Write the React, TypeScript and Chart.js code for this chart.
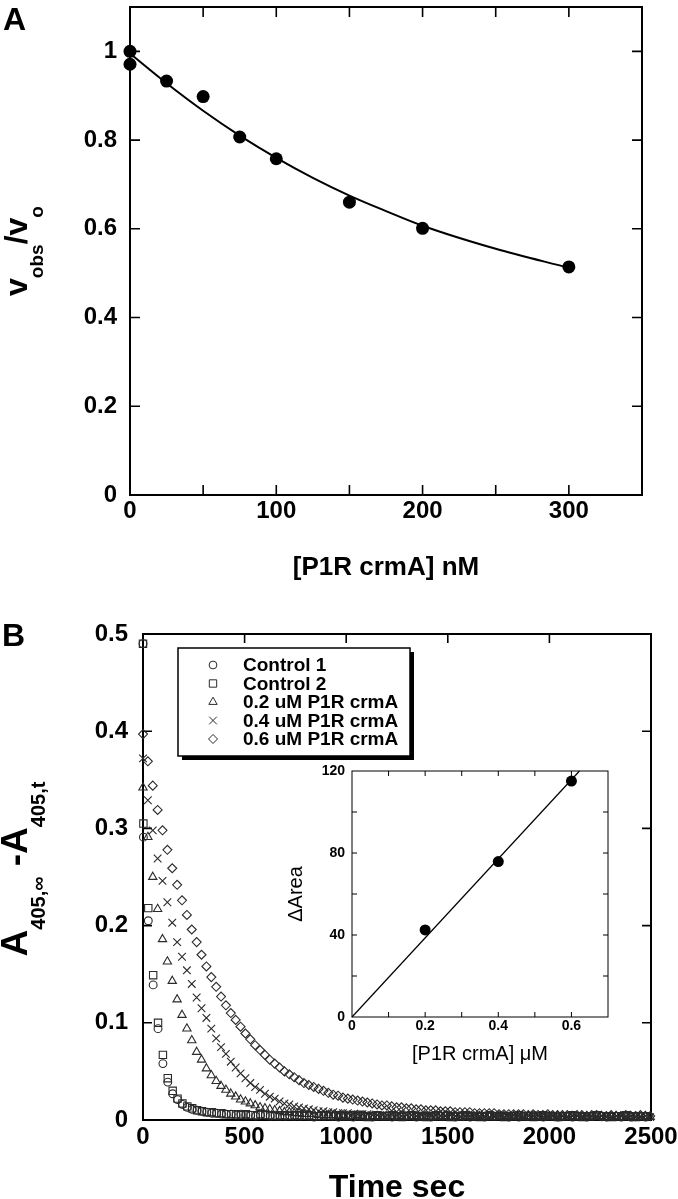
import React, { useEffect, useRef } from 'react';
import { Chart, registerables } from 'chart.js';

Chart.register(...registerables);

const FONT = '"Liberation Sans", Arial, Helvetica, sans-serif';
Chart.defaults.font.family = FONT;
Chart.defaults.color = '#000';

// ---------- Panel A ----------
const concA = [0, 0, 25, 50, 75, 100, 150, 200, 300];
const ratioA = [1.0, 0.971, 0.933, 0.898, 0.807, 0.758, 0.66, 0.601, 0.514];
const fitConcA = [0, 25, 50, 75, 100, 125, 150, 175, 200, 250, 300];
const fitRatioA = [0.995, 0.928, 0.866, 0.81, 0.76, 0.715, 0.675, 0.64, 0.607, 0.555, 0.512];

// ---------- Panel B ----------
const SAMPLE_STEP_S = 24;
const N_SAMPLES = 105;
const timeB = Array.from({ length: N_SAMPLES }, (_, i) => i * SAMPLE_STEP_S);
const CONTROL_OFFSET_S = 2;
const controlTimeB = [0, ...timeB.slice(0, N_SAMPLES - 1).map((t) => t + CONTROL_OFFSET_S)];

const control1 = [
  0.490, 0.291, 0.205, 0.139, 0.094, 0.058, 0.039, 0.027, 0.021, 0.016,
  0.013, 0.011, 0.010, 0.009, 0.008, 0.007, 0.007, 0.006, 0.006, 0.006,
  0.005, 0.006, 0.005, 0.005, 0.004, 0.005, 0.005, 0.004, 0.005, 0.004,
  0.004, 0.005, 0.004, 0.004, 0.005, 0.004, 0.003, 0.004, 0.004, 0.005,
  0.004, 0.003, 0.004, 0.004, 0.003, 0.004, 0.005, 0.004, 0.003, 0.004,
  0.004, 0.004, 0.003, 0.004, 0.005, 0.004, 0.004, 0.003, 0.004, 0.004,
  0.003, 0.004, 0.004, 0.005, 0.004, 0.003, 0.004, 0.004, 0.003, 0.004,
  0.004, 0.003, 0.004, 0.004, 0.005, 0.004, 0.003, 0.004, 0.003, 0.004,
  0.004, 0.005, 0.004, 0.003, 0.004, 0.004, 0.003, 0.004, 0.004, 0.003,
  0.004, 0.004, 0.003, 0.004, 0.005, 0.004, 0.003, 0.004, 0.004, 0.003,
  0.004, 0.003, 0.004, 0.004, 0.003,
];
const control2 = [
  0.490, 0.305, 0.218, 0.149, 0.100, 0.067, 0.043, 0.030, 0.022, 0.017,
  0.014, 0.012, 0.010, 0.009, 0.008, 0.008, 0.007, 0.007, 0.006, 0.006,
  0.006, 0.005, 0.006, 0.005, 0.005, 0.006, 0.005, 0.005, 0.004, 0.005,
  0.005, 0.004, 0.005, 0.005, 0.004, 0.005, 0.004, 0.004, 0.005, 0.004,
  0.004, 0.005, 0.004, 0.004, 0.005, 0.004, 0.004, 0.003, 0.004, 0.005,
  0.004, 0.004, 0.005, 0.004, 0.003, 0.004, 0.005, 0.004, 0.004, 0.003,
  0.004, 0.005, 0.004, 0.004, 0.003, 0.004, 0.004, 0.005, 0.004, 0.004,
  0.003, 0.004, 0.005, 0.004, 0.004, 0.003, 0.004, 0.004, 0.005, 0.004,
  0.004, 0.003, 0.004, 0.005, 0.004, 0.004, 0.003, 0.004, 0.004, 0.005,
  0.004, 0.003, 0.004, 0.004, 0.005, 0.004, 0.004, 0.003, 0.004, 0.004,
  0.005, 0.004, 0.003, 0.004, 0.004,
];
const crmA02 = [
  0.342, 0.291, 0.250, 0.217, 0.186, 0.163, 0.143, 0.124, 0.108, 0.094,
  0.082, 0.070, 0.062, 0.053, 0.046, 0.040, 0.035, 0.031, 0.027, 0.024,
  0.021, 0.019, 0.017, 0.015, 0.013, 0.012, 0.011, 0.010, 0.009, 0.008,
  0.008, 0.007, 0.007, 0.006, 0.006, 0.006, 0.005, 0.005, 0.005, 0.005,
  0.004, 0.005, 0.004, 0.004, 0.005, 0.004, 0.003, 0.004, 0.004, 0.003,
  0.004, 0.004, 0.003, 0.004, 0.003, 0.004, 0.004, 0.003, 0.004, 0.003,
  0.003, 0.004, 0.004, 0.003, 0.004, 0.003, 0.003, 0.004, 0.003, 0.004,
  0.003, 0.004, 0.003, 0.003, 0.004, 0.003, 0.004, 0.003, 0.003, 0.004,
  0.003, 0.003, 0.004, 0.003, 0.003, 0.004, 0.003, 0.003, 0.004, 0.003,
  0.003, 0.004, 0.003, 0.003, 0.004, 0.003, 0.003, 0.004, 0.003, 0.003,
  0.004, 0.003, 0.003, 0.004, 0.003,
];
const crmA04 = [
  0.372, 0.329, 0.298, 0.269, 0.246, 0.224, 0.203, 0.183, 0.168, 0.154,
  0.140, 0.126, 0.115, 0.105, 0.094, 0.084, 0.075, 0.068, 0.060, 0.054,
  0.048, 0.043, 0.038, 0.034, 0.031, 0.027, 0.024, 0.022, 0.019, 0.017,
  0.016, 0.014, 0.013, 0.012, 0.011, 0.010, 0.009, 0.009, 0.008, 0.008,
  0.007, 0.007, 0.007, 0.006, 0.006, 0.006, 0.006, 0.005, 0.005, 0.005,
  0.005, 0.006, 0.005, 0.004, 0.005, 0.005, 0.004, 0.005, 0.004, 0.004,
  0.005, 0.004, 0.004, 0.005, 0.004, 0.003, 0.004, 0.004, 0.005, 0.004,
  0.004, 0.003, 0.004, 0.004, 0.003, 0.004, 0.005, 0.004, 0.003, 0.004,
  0.004, 0.004, 0.003, 0.004, 0.004, 0.003, 0.004, 0.003, 0.004, 0.004,
  0.003, 0.004, 0.004, 0.003, 0.004, 0.003, 0.003, 0.004, 0.004, 0.003,
  0.004, 0.003, 0.003, 0.004, 0.003,
];
const crmA06 = [
  0.397, 0.369, 0.344, 0.319, 0.298, 0.278, 0.259, 0.242, 0.226, 0.211,
  0.196, 0.183, 0.170, 0.158, 0.147, 0.137, 0.127, 0.118, 0.110, 0.103,
  0.096, 0.089, 0.083, 0.077, 0.072, 0.067, 0.062, 0.058, 0.054, 0.050,
  0.047, 0.044, 0.041, 0.038, 0.036, 0.034, 0.032, 0.030, 0.028, 0.026,
  0.025, 0.023, 0.022, 0.021, 0.020, 0.019, 0.018, 0.017, 0.016, 0.015,
  0.015, 0.014, 0.013, 0.013, 0.012, 0.012, 0.011, 0.011, 0.010, 0.010,
  0.010, 0.009, 0.009, 0.009, 0.008, 0.008, 0.008, 0.008, 0.007, 0.007,
  0.007, 0.007, 0.007, 0.006, 0.006, 0.006, 0.006, 0.006, 0.006, 0.005,
  0.006, 0.005, 0.005, 0.006, 0.005, 0.005, 0.005, 0.005, 0.004, 0.005,
  0.005, 0.004, 0.005, 0.005, 0.004, 0.004, 0.005, 0.004, 0.004, 0.005,
  0.004, 0.004, 0.005, 0.004, 0.004,
];
const legendLabelsB = ['Control 1', 'Control 2', '0.2 uM P1R crmA', '0.4 uM P1R crmA', '0.6 uM P1R crmA'];
const markerStylesB = ['circle', 'rect', 'triangle', 'crossRot', 'rectRot'];
const markerRadiiB = [3.9, 5.2, 4.8, 5.4, 4.5];

// ---------- Inset ----------
const concInset = [0.2, 0.4, 0.6];
const areaInset = [42.5, 75.8, 115.1];
const fitConcInset = [0, 0.622];
const fitAreaInset = [0, 120];

const MARK_COLOR = '#2a2a2a';

type Seg = { t: string; s: number; sh?: number; w?: string };

function drawRich(ctx: CanvasRenderingContext2D, segs: Seg[], x: number, y: number, rotated: boolean) {
  ctx.save();
  ctx.fillStyle = '#000';
  ctx.textBaseline = 'alphabetic';
  ctx.textAlign = 'left';
  let total = 0;
  const widths = segs.map((sg) => {
    ctx.font = `${sg.w ?? 'bold'} ${sg.s}px ${FONT}`;
    const w = ctx.measureText(sg.t).width;
    total += w;
    return w;
  });
  ctx.translate(x, y);
  if (rotated) ctx.rotate(-Math.PI / 2);
  let cx = -total / 2;
  segs.forEach((sg, i) => {
    ctx.font = `${sg.w ?? 'bold'} ${sg.s}px ${FONT}`;
    ctx.fillText(sg.t, cx, sg.sh ?? 0);
    cx += widths[i];
  });
  ctx.restore();
}

function drawMarker(ctx: CanvasRenderingContext2D, style: string, x: number, y: number, r: number) {
  ctx.beginPath();
  if (style === 'circle') {
    ctx.arc(x, y, r, 0, Math.PI * 2);
  } else if (style === 'rect') {
    const s = r * Math.SQRT1_2;
    ctx.rect(x - s, y - s, 2 * s, 2 * s);
  } else if (style === 'triangle') {
    for (let k = 0; k < 3; k++) {
      const a = (k * 2 * Math.PI) / 3;
      const px = x + Math.sin(a) * r;
      const py = y - Math.cos(a) * r;
      if (k === 0) ctx.moveTo(px, py);
      else ctx.lineTo(px, py);
    }
    ctx.closePath();
  } else if (style === 'crossRot') {
    const o = r * Math.SQRT1_2;
    ctx.moveTo(x - o, y - o);
    ctx.lineTo(x + o, y + o);
    ctx.moveTo(x - o, y + o);
    ctx.lineTo(x + o, y - o);
  } else if (style === 'rectRot') {
    ctx.moveTo(x, y - r);
    ctx.lineTo(x + r, y);
    ctx.lineTo(x, y + r);
    ctx.lineTo(x - r, y);
    ctx.closePath();
  }
  ctx.stroke();
}

function framePlugin(tickLen: number, lineW: number, tickW: number) {
  return {
    id: 'frame',
    beforeDatasetsDraw(chart: any) {
      const { ctx, chartArea: a, scales } = chart;
      ctx.save();
      ctx.strokeStyle = '#000';
      ctx.lineWidth = lineW;
      ctx.strokeRect(a.left, a.top, a.right - a.left, a.bottom - a.top);
      ctx.lineWidth = tickW;
      ctx.beginPath();
      for (const t of scales.x.ticks) {
        const px = scales.x.getPixelForValue(t.value);
        if (px <= a.left + 1 || px >= a.right - 1) continue;
        ctx.moveTo(px, a.bottom);
        ctx.lineTo(px, a.bottom - tickLen);
        ctx.moveTo(px, a.top);
        ctx.lineTo(px, a.top + tickLen);
      }
      for (const t of scales.y.ticks) {
        const py = scales.y.getPixelForValue(t.value);
        if (py <= a.top + 1 || py >= a.bottom - 1) continue;
        ctx.moveTo(a.left, py);
        ctx.lineTo(a.left + tickLen, py);
        ctx.moveTo(a.right, py);
        ctx.lineTo(a.right - tickLen, py);
      }
      ctx.stroke();
      ctx.restore();
    },
  };
}

function zeroPad(s: any) {
  s.paddingTop = 0;
  s.paddingBottom = 0;
  s.paddingLeft = 0;
  s.paddingRight = 0;
}

function fixedAxes(yWidth: number, xHeight: number) {
  return {
    y: (s: any) => {
      s.width = yWidth;
      zeroPad(s);
    },
    x: (s: any) => {
      s.height = xHeight;
      zeroPad(s);
    },
  };
}

const tickFont = (size: number, weight: any = 'bold') => ({ family: FONT, size, weight });

export default function App() {
  const refA = useRef<HTMLCanvasElement>(null);
  const refB = useRef<HTMLCanvasElement>(null);
  const refC = useRef<HTMLCanvasElement>(null);

  useEffect(() => {
    // ----- Panel A -----
    const fa = fixedAxes(130, 60);
    const chartA = new Chart(refA.current!, {
      type: 'scatter',
      data: {
        datasets: [
          {
            data: concA.map((x, i) => ({ x, y: ratioA[i] })),
            pointStyle: 'circle',
            pointRadius: 6.5,
            backgroundColor: '#000',
            borderColor: '#000',
            borderWidth: 0,
            clip: false,
          } as any,
          {
            data: fitConcA.map((x, i) => ({ x, y: fitRatioA[i] })),
            showLine: true,
            pointRadius: 0,
            borderColor: '#000',
            borderWidth: 2,
            tension: 0.4,
            cubicInterpolationMode: 'monotone',
            clip: false,
          } as any,
        ],
      },
      options: {
        responsive: false,
        animation: false,
        events: [],
        layout: { padding: { left: 0, right: 36, top: 7, bottom: 45 }, autoPadding: false } as any,
        plugins: { legend: { display: false }, tooltip: { enabled: false } },
        scales: {
          x: {
            type: 'linear',
            min: 0,
            max: 350,
            grid: { display: false, drawTicks: false },
            border: { display: false },
            afterFit: fa.x,
            ticks: {
              stepSize: 50,
              autoSkip: false,
              maxRotation: 0,
              padding: 2,
              font: tickFont(24),
              color: '#000',
              callback: (v: any) => (Math.round(v) % 100 === 0 ? String(Math.round(v)) : ''),
            },
          },
          y: {
            type: 'linear',
            min: 0,
            max: 1.1,
            grid: { display: false, drawTicks: false },
            border: { display: false },
            afterFit: fa.y,
            ticks: {
              stepSize: 0.2,
              includeBounds: false,
              autoSkip: false,
              padding: 13,
              font: tickFont(24),
              color: '#000',
              callback: (v: any) => String(Math.round(v * 10) / 10),
            },
          },
        },
      } as any,
      plugins: [
        framePlugin(10, 2, 1.6),
        {
          id: 'titlesA',
          afterDraw(chart: any) {
            const ctx = chart.ctx;
            const a = chart.chartArea;
            drawRich(ctx, [{ t: '[P1R crmA] nM', s: 26 }], (a.left + a.right) / 2, 575, false);
            drawRich(
              ctx,
              [
                { t: 'v', s: 32 },
                { t: 'obs', s: 19, sh: 16 },
                { t: '/v', s: 32 },
                { t: 'o', s: 19, sh: 16 },
              ],
              27,
              (a.top + a.bottom) / 2,
              true
            );
            ctx.save();
            ctx.font = `bold 32px ${FONT}`;
            ctx.fillStyle = '#000';
            ctx.textBaseline = 'alphabetic';
            ctx.fillText('A', 3, 30);
            ctx.restore();
          },
        },
      ],
    } as any);

    // ----- Panel B -----
    const fb = fixedAxes(143, 60);
    const seriesB = [control1, control2, crmA02, crmA04, crmA06];
    const chartB = new Chart(refB.current!, {
      type: 'scatter',
      data: {
        datasets: seriesB.map((vals, k) => ({
          label: legendLabelsB[k],
          data: vals.map((y, i) => ({ x: k < 2 ? controlTimeB[i] : timeB[i], y })),
          pointStyle: markerStylesB[k],
          pointRadius: markerRadiiB[k],
          backgroundColor: 'rgba(0,0,0,0)',
          borderColor: MARK_COLOR,
          borderWidth: 1.1,
          clip: false,
        })) as any,
      },
      options: {
        responsive: false,
        animation: false,
        events: [],
        layout: { padding: { left: 0, right: 27, top: 34, bottom: 19 }, autoPadding: false } as any,
        plugins: { legend: { display: false }, tooltip: { enabled: false } },
        scales: {
          x: {
            type: 'linear',
            min: 0,
            max: 2500,
            grid: { display: false, drawTicks: false },
            border: { display: false },
            afterFit: fb.x,
            ticks: {
              stepSize: 500,
              autoSkip: false,
              maxRotation: 0,
              padding: 3,
              font: tickFont(24),
              color: '#000',
              callback: (v: any) => String(Math.round(v)),
            },
          },
          y: {
            type: 'linear',
            min: 0,
            max: 0.5,
            grid: { display: false, drawTicks: false },
            border: { display: false },
            afterFit: fb.y,
            ticks: {
              stepSize: 0.1,
              autoSkip: false,
              padding: 15,
              font: tickFont(24),
              color: '#000',
              callback: (v: any) => (Math.abs(v) < 1e-9 ? '0' : (Math.round(v * 10) / 10).toFixed(1)),
            },
          },
        },
      } as any,
      plugins: [
        framePlugin(9, 2, 1.6),
        {
          id: 'titlesB',
          afterDraw(chart: any) {
            const ctx = chart.ctx;
            const a = chart.chartArea;
            drawRich(ctx, [{ t: 'Time sec', s: 32 }], (a.left + a.right) / 2, 597, false);
            drawRich(
              ctx,
              [
                { t: 'A', s: 37 },
                { t: '405,∞', s: 20, sh: 18 },
                { t: ' -A', s: 37 },
                { t: '405,t', s: 20, sh: 18 },
              ],
              27,
              (a.top + a.bottom) / 2 - 8,
              true
            );
            ctx.save();
            ctx.font = `bold 32px ${FONT}`;
            ctx.fillStyle = '#000';
            ctx.textBaseline = 'alphabetic';
            ctx.fillText('B', 2, 46);
            // legend box
            const bx = 178, by = 48, bw = 232, bh = 108;
            ctx.fillStyle = '#000';
            ctx.fillRect(bx + 4, by + 4, bw, bh);
            ctx.fillStyle = '#fff';
            ctx.fillRect(bx, by, bw, bh);
            ctx.strokeStyle = '#000';
            ctx.lineWidth = 1.5;
            ctx.strokeRect(bx, by, bw, bh);
            const rowsY = [65, 83.5, 102, 120.5, 139];
            ctx.strokeStyle = MARK_COLOR;
            ctx.lineWidth = 1;
            legendLabelsB.forEach((lab, k) => {
              drawMarker(ctx, markerStylesB[k], 213, rowsY[k], markerRadiiB[k]);
            });
            ctx.fillStyle = '#000';
            ctx.font = `bold 19px ${FONT}`;
            ctx.textBaseline = 'middle';
            legendLabelsB.forEach((lab, k) => {
              ctx.fillText(lab, 243, rowsY[k] + 1);
            });
            ctx.restore();
          },
        },
      ],
    } as any);

    // ----- Inset -----
    const fc = fixedAxes(102, 30);
    const chartC = new Chart(refC.current!, {
      type: 'scatter',
      data: {
        datasets: [
          {
            data: concInset.map((x, i) => ({ x, y: areaInset[i] })),
            pointStyle: 'circle',
            pointRadius: 5.5,
            backgroundColor: '#000',
            borderWidth: 0,
            clip: false,
          } as any,
          {
            data: fitConcInset.map((x, i) => ({ x, y: fitAreaInset[i] })),
            showLine: true,
            pointRadius: 0,
            borderColor: '#000',
            borderWidth: 1.2,
            clip: false,
          } as any,
        ],
      },
      options: {
        responsive: false,
        animation: false,
        events: [],
        layout: { padding: { left: 0, right: 42, top: 31, bottom: 23 }, autoPadding: false } as any,
        plugins: { legend: { display: false }, tooltip: { enabled: false } },
        scales: {
          x: {
            type: 'linear',
            min: 0,
            max: 0.7,
            grid: { display: false, drawTicks: false },
            border: { display: false },
            afterFit: fc.x,
            ticks: {
              stepSize: 0.1,
              autoSkip: false,
              maxRotation: 0,
              padding: 1,
              font: tickFont(14),
              color: '#000',
              callback: (v: any) => {
                const d = Math.round(v * 10);
                if (d % 2 !== 0 || d > 6) return '';
                return d === 0 ? '0' : (d / 10).toFixed(1);
              },
            },
          },
          y: {
            type: 'linear',
            min: 0,
            max: 120,
            grid: { display: false, drawTicks: false },
            border: { display: false },
            afterFit: fc.y,
            ticks: {
              stepSize: 20,
              autoSkip: false,
              padding: 7,
              font: tickFont(14),
              color: '#000',
              callback: (v: any) => (Math.round(v) % 40 === 0 ? String(Math.round(v)) : ''),
            },
          },
        },
      } as any,
      plugins: [
        framePlugin(5, 1, 1),
        {
          id: 'titlesC',
          afterDraw(chart: any) {
            const ctx = chart.ctx;
            const a = chart.chartArea;
            drawRich(ctx, [{ t: '[P1R crmA] μM', s: 20, w: 'normal' }], (a.left + a.right) / 2, 320, false);
            drawRich(ctx, [{ t: 'ΔArea', s: 20, w: 'normal' }], 52, (a.top + a.bottom) / 2, true);
          },
        },
      ],
    } as any);

    return () => {
      chartA.destroy();
      chartB.destroy();
      chartC.destroy();
    };
  }, []);

  return (
    <div style={{ position: 'absolute', left: 0, top: 0, width: 678, height: 1199, background: '#fff' }}>
      <canvas ref={refA} width={678} height={600} style={{ position: 'absolute', left: 0, top: 0 }} />
      <canvas ref={refB} width={678} height={599} style={{ position: 'absolute', left: 0, top: 600 }} />
      <canvas ref={refC} width={400} height={330} style={{ position: 'absolute', left: 250, top: 740 }} />
    </div>
  );
}
